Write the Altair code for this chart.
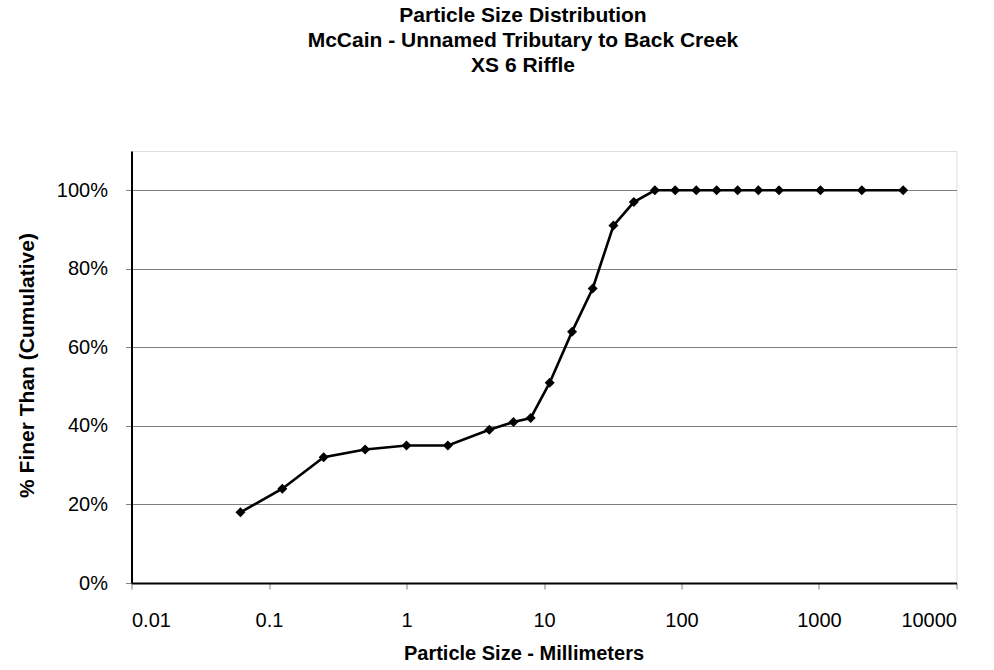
import altair as alt
import pandas as pd

sizes_mm = [0.062, 0.125, 0.25, 0.5, 1, 2, 4, 6, 8, 11, 16, 22.6, 32, 45, 64,
            90, 128, 180, 256, 362, 512, 1024, 2048, 4096]
pct_finer = [18, 24, 32, 34, 35, 35, 39, 41, 42, 51, 64, 75, 91, 97, 100,
             100, 100, 100, 100, 100, 100, 100, 100, 100]
x_ticks = [0.01, 0.1, 1, 10, 100, 1000, 10000]
y_ticks = [0, 0.2, 0.4, 0.6, 0.8, 1.0]
title_lines = ["Particle Size Distribution",
               "McCain - Unnamed Tributary to Back Creek",
               "XS 6 Riffle"]

df = pd.DataFrame({"size": sizes_mm, "pct": [p / 100 for p in pct_finer]})

W, H = 825, 432
FONT = "Liberation Sans"

x = alt.X("size:Q",
          scale=alt.Scale(type="log", domain=[0.01, 10000], nice=False),
          axis=alt.Axis(values=x_ticks, labelExpr="format(datum.value, '~g')",
                        title="Particle Size - Millimeters",
                        titleX=392, titleY=76, titleAlign="center",
                        titleBaseline="alphabetic",
                        grid=False, domainColor="black", domainWidth=2,
                        tickColor="#808080", tickSize=6,
                        labelPadding=21, labelFontSize=20,
                        labelColor="black", labelFont=FONT,
                        titleFont=FONT, titleFontSize=20, titleFontWeight="bold",
                        titleColor="black"))
y = alt.Y("pct:Q",
          scale=alt.Scale(domain=[0, 1.1], nice=False),
          axis=alt.Axis(values=y_ticks, format=".0%",
                        title="% Finer Than (Cumulative)",
                        titleX=-104, titleY=H / 2 - 2, titleAngle=-90,
                        titleAlign="center", titleBaseline="middle",
                        grid=True, gridColor="#808080", gridWidth=1,
                        domainColor="black", domainWidth=2,
                        tickColor="#808080", tickSize=6,
                        labelPadding=18, labelFontSize=20, labelColor="black",
                        labelFont=FONT, titleFont=FONT, titleFontSize=21,
                        titleFontWeight="bold", titleColor="black"))

line = alt.Chart(df).mark_line(color="black", strokeWidth=2.6).encode(x=x, y=y)
pts = alt.Chart(df).mark_point(shape="diamond", filled=True, color="black",
                               size=100, opacity=1).encode(x="size:Q", y="pct:Q")

chart = (line + pts).properties(
    width=W, height=H,
    title=alt.TitleParams(title_lines, anchor="middle", dx=-21, offset=75,
                          font=FONT, fontSize=21, fontWeight="bold",
                          color="black", lineHeight=25),
    autosize=alt.AutoSizeParams(type="none"),
    padding={"left": 131.5, "top": 151, "right": 37, "bottom": 87},
).configure_view(stroke="#808080", strokeWidth=1.5).configure(background="white")

chart.save("out.html", embed_options={"renderer": "svg", "actions": False})
